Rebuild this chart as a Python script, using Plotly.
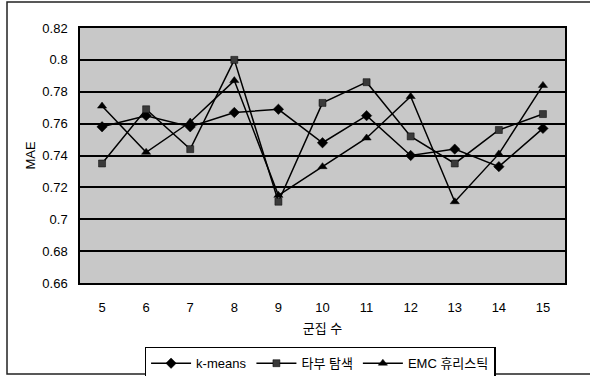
import plotly.graph_objects as go

# Number of clusters
clusters = ["5", "6", "7", "8", "9", "10", "11", "12", "13", "14", "15"]

# MAE per clustering method
kmeans = [0.758, 0.765, 0.758, 0.767, 0.769, 0.748, 0.765, 0.740, 0.744, 0.733, 0.757]
tabu = [0.735, 0.769, 0.744, 0.800, 0.711, 0.773, 0.786, 0.752, 0.735, 0.756, 0.766]
emc = [0.771, 0.742, 0.761, 0.787, 0.715, 0.733, 0.751, 0.777, 0.711, 0.741, 0.784]

y_ticks = [0.66, 0.68, 0.70, 0.72, 0.74, 0.76, 0.78, 0.80, 0.82]
y_tick_text = ["0.66", "0.68", "0.7", "0.72", "0.74", "0.76", "0.78", "0.8", "0.82"]

font_latin = "Liberation Sans, Arial, sans-serif"
font_kr = "Liberation Sans, Noto Sans CJK KR, sans-serif"

fig = go.Figure()

series = [
    ("k-means", kmeans, "diamond", "#000000", 8),
    ("타부 탐색", tabu, "square", "#3a3a3a", 7),
    ("EMC 휴리스틱", emc, "triangle-up", "#000000", 8),
]
for name, vals, sym, mcol, msize in series:
    fig.add_trace(go.Scatter(
        x=clusters, y=vals, name=name, mode="lines+markers",
        line=dict(color="#000000", width=1.5),
        marker=dict(symbol=sym, size=msize, color=mcol,
                    line=dict(color="#000000", width=0.5)),
    ))

# outer chart frame
fig.add_shape(type="rect", xref="paper", yref="paper",
              x0=-0.1505, x1=1.2, y0=-0.357, y1=1.102,
              line=dict(color="#222222", width=1.5), fillcolor="rgba(0,0,0,0)",
              layer="below")

fig.update_layout(
    width=590, height=376,
    margin=dict(l=80, r=25, t=28, b=93, autoexpand=False),
    paper_bgcolor="#ffffff",
    plot_bgcolor="#c8c8c8",
    font=dict(family=font_latin, size=12, color="#000000"),
    showlegend=True,
    legend=dict(
        orientation="h", x=0.495, xanchor="center", y=-0.25, yanchor="top",
        bgcolor="#ffffff", bordercolor="#000000", borderwidth=1.5,
        font=dict(family=font_kr, size=13, color="#000000"),
        itemwidth=40, tracegroupgap=0,
    ),
    xaxis=dict(
        type="category", showgrid=False, zeroline=False,
        showline=True, linecolor="#000000", linewidth=1.5, mirror=True,
        ticks="", ticklabelstandoff=12,
        tickfont=dict(family=font_latin, size=13),
        title=dict(text="군집 수", font=dict(family=font_kr, size=13), standoff=10),
        range=[-0.5, 10.5],
    ),
    yaxis=dict(
        range=[0.66, 0.82], tickvals=y_ticks, ticktext=y_tick_text,
        showgrid=True, gridcolor="#000000", gridwidth=1.5, zeroline=False,
        showline=True, linecolor="#000000", linewidth=1.5, mirror=True,
        ticks="", ticklabelstandoff=8,
        tickfont=dict(family=font_latin, size=13),
        title=dict(text="MAE", font=dict(family=font_latin, size=13), standoff=4),
    ),
)

fig.write_html("out.html")
